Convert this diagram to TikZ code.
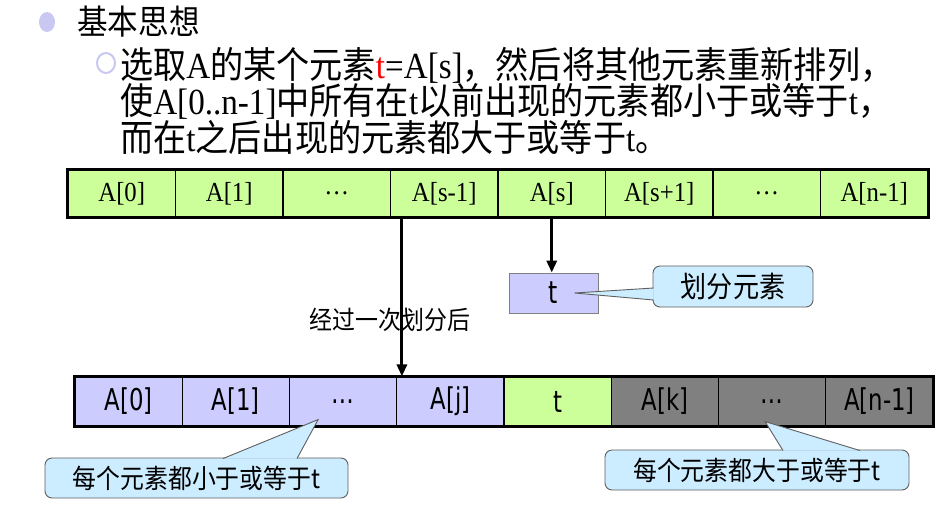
\documentclass[tikz,border=0pt]{standalone}
\usepackage{fontspec}
\setmainfont{Liberation Serif}[FakeStretch=0.9]
\newfontfamily\cjk{Noto Sans CJK SC}[FakeStretch=0.9]
\newfontfamily\cellsans{DejaVu Sans}[FakeStretch=0.76]
\usetikzlibrary{arrows.meta}
\definecolor{arraygreen}{HTML}{CCFF99}
\definecolor{cellpurple}{HTML}{CCCCFF}
\definecolor{celldark}{HTML}{808080}
\definecolor{noteblue}{HTML}{CCECFF}
\definecolor{notegray}{HTML}{5F5F5F}
\definecolor{bulletlav}{HTML}{C8C8F2}
\newcommand\zh[1]{{\cjk #1}}
\tikzset{
  hdtext/.style={anchor=west, inner sep=0pt, font=\fontsize{36.8}{40}\selectfont},
  topcell/.style={draw, line width=1.2pt, fill=arraygreen, minimum width=107.5pt,
    minimum height=47pt, inner sep=0pt, font=\fontsize{27.5}{30}\selectfont},
  lowcell/.style={draw, line width=1.2pt, fill=cellpurple, minimum width=107.25pt,
    minimum height=49pt, inner sep=0pt, font=\cellsans\fontsize{30}{32}\selectfont},
  note/.style={draw=notegray, line width=0.9pt, fill=noteblue, rounded corners=7pt,
    inner sep=0pt, font=\cjk\fontsize{26.5}{30}\selectfont},
  pointer/.style={draw=notegray, line width=0.9pt, fill=noteblue, line join=miter},
  bar/.style={line width=3pt, -{Triangle[length=12pt,width=10pt]}},
}
\begin{document}
\begin{tikzpicture}[x=1pt,y=-1pt]
  \useasboundingbox[fill=white] (0,0) rectangle (942,506);
  \fill[bulletlav] (47,22) ellipse [x radius=8, y radius=10];
  \draw[bulletlav, line width=2pt] (106,63) ellipse [x radius=9, y radius=10];
  \node[hdtext, font=\cjk\fontsize{34}{40}\selectfont] (idea) at (77,22) {基本思想};
  \node[hdtext] (line1) at (120,65) {\zh{选取}A\zh{的某个元素}\textcolor{red}{t}=A[s]\zh{，然后将其他元素重新排列，}};
  \node[hdtext] (line2) at (120,101) {\zh{使}A[0..n-1]\zh{中所有在}t\zh{以前出现的元素都小于或等于}t\zh{，}};
  \node[hdtext] (line3) at (120,137) {\zh{而在}t\zh{之后出现的元素都大于或等于}t\zh{。}};

  \node[topcell] (ta0) at (121.75,193.5) {A[0]};
  \node[topcell] (ta1) at (229.25,193.5) {A[1]};
  \node[topcell] (ta2) at (336.75,193.5) {…};
  \node[topcell] (ta3) at (444.25,193.5) {A[s-1]};
  \node[topcell] (ta4) at (551.75,193.5) {A[s]};
  \node[topcell] (ta5) at (659.25,193.5) {A[s+1]};
  \node[topcell] (ta6) at (766.75,193.5) {…};
  \node[topcell] (ta7) at (874.25,193.5) {A[n-1]};
  \draw[line width=3.5pt] (ta0.north west) rectangle (ta7.south east);

  \node[draw=gray, line width=0.8pt, fill=cellpurple, minimum width=89pt, minimum height=40pt,
    font=\cellsans\fontsize{31}{32}\selectfont] (pivot) at (553.5,293) {t};
  \node[note, minimum width=160pt, minimum height=41pt, font=\cjk\fontsize{29}{32}\selectfont]
    (pivotnote) at (733,286.5) {划分元素};
  \coordinate (pivottip) at ([xshift=21pt]pivot.center);
  \draw[pointer] ([xshift=1pt,yshift=-1.5pt]pivotnote.west) -- (pivottip)
    -- ([xshift=1pt,yshift=-13.5pt]pivotnote.west);
  \node[font=\cjk\fontsize{25.5}{30}\selectfont] (cutlabel) at (390,320) {经过一次划分后};

  \node[lowcell] (lb0) at (128.6,401.5) {A[0]};
  \node[lowcell] (lb1) at (235.9,401.5) {A[1]};
  \node[lowcell] (lb2) at (343.1,401.5) {…};
  \node[lowcell] (lb3) at (450.4,401.5) {A[j]};
  \node[lowcell, fill=arraygreen] (lb4) at (557.6,401.5) {t};
  \node[lowcell, fill=celldark] (lb5) at (664.9,401.5) {A[k]};
  \node[lowcell, fill=celldark] (lb6) at (772.1,401.5) {…};
  \node[lowcell, fill=celldark] (lb7) at (879.4,401.5) {A[n-1]};
  \draw[line width=3pt] (lb0.north west) rectangle (lb7.south east);

  \node[note, minimum width=303pt, minimum height=40pt] (lessnote) at (196.5,478) {每个元素都小于或等于t};
  \node[note, minimum width=304pt, minimum height=40pt] (morenote) at (757,470) {每个元素都大于或等于t};
  \coordinate (lesstip) at ([xshift=-25pt,yshift=7pt]lb2.south);
  \coordinate (moretip) at ([xshift=-7pt,yshift=5pt]lb6.south);
  \draw[pointer] ([xshift=26.5pt,yshift=-1pt]lessnote.north) -- (lesstip)
    -- ([xshift=100.5pt,yshift=-1pt]lessnote.north);
  \draw[pointer] ([xshift=26pt,yshift=-1pt]morenote.north) -- (moretip)
    -- ([xshift=103pt,yshift=-1pt]morenote.north);

  \coordinate (cut) at ([xshift=12pt]ta3.south west);
  \draw[bar] (cut) -- (cut |- lb3.north);
  \draw[bar] (ta4.south) -- (ta4.south |- pivot.north);
\end{tikzpicture}
\end{document}
